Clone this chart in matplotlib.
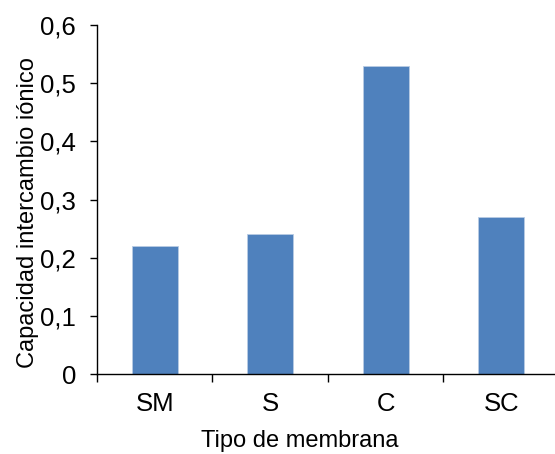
import matplotlib
matplotlib.use("Agg")
import matplotlib.pyplot as plt
from matplotlib.ticker import FuncFormatter, FixedLocator

categories = ["SM", "S", "C", "SC"]
values = [0.22, 0.24, 0.53, 0.27]
yticks = [0, 0.1, 0.2, 0.3, 0.4, 0.5, 0.6]

plt.rcParams['font.family'] = ['Liberation Sans', 'DejaVu Sans']

fig = plt.figure(figsize=(5.55, 4.54), dpi=100)
ax = fig.add_axes([0.1748, 0.1762, 0.8322, 0.7687])

x = list(range(len(categories)))
ax.bar(x, values, width=0.4, color="#4F81BD", edgecolor="#B8CCE4", linewidth=0.6)

ax.set_xlim(-0.5, len(categories) - 0.5)
ax.set_ylim(0, 0.6)
ax.set_yticks(yticks)
ax.yaxis.set_major_formatter(FuncFormatter(lambda v, p: "0" if v == 0 else f"{v:.1f}".replace(".", ",")))
ax.set_xticks(x)
ax.set_xticklabels(categories)
ax.xaxis.set_minor_locator(FixedLocator([i - 0.5 for i in range(len(categories) + 1)]))
ax.tick_params(axis="x", which="major", length=0, labelsize=18.5, pad=13)
ax.tick_params(axis="x", which="minor", length=5.5, width=1, direction="out")
ax.tick_params(axis="y", length=5, width=1, direction="out", labelsize=18.5, pad=10)

for s in ["top", "right"]:
    ax.spines[s].set_visible(False)
for s in ["left", "bottom"]:
    ax.spines[s].set_linewidth(1)

ax.set_ylabel("Capacidad intercambio iónico", fontsize=17)
ax.set_xlabel("Tipo de membrana", fontsize=17)
ax.yaxis.set_label_coords(-0.125, 0.464)
ax.xaxis.set_label_coords(0.439, -0.161)

fig.savefig("out.png", dpi=100)
